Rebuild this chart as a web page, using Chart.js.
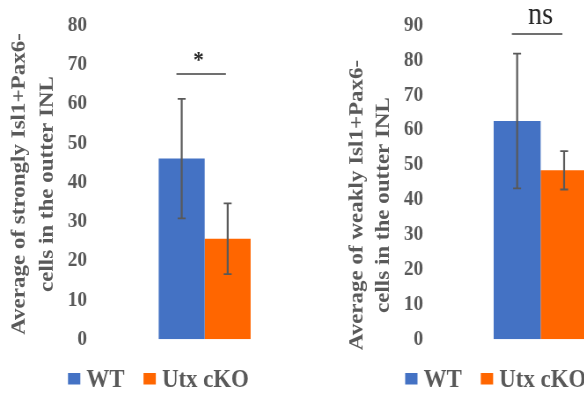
<!DOCTYPE html>
<html lang="en">
<head>
<meta charset="UTF-8">
<title>Isl1+Pax6- cells in the outer INL</title>
<style>
    html, body { margin: 0; padding: 0; background: #fff; overflow: hidden; width: 584px; height: 396px; }
    .wrap { position: relative; width: 584px; height: 396px; overflow: hidden; }
    canvas { position: absolute; top: 0; }
</style>
<script src="https://cdn.jsdelivr.net/npm/chart.js@4.4.1/dist/chart.umd.min.js"></script>
</head>
<body>
<div class="wrap">
    <!-- canvases are drawn wider than shown and squeezed, the source picture is squeezed the same way -->
    <canvas id="strongChart" width="332" height="396" style="left:0px;width:292px;height:396px"></canvas>
    <canvas id="weakChart" width="352" height="396" style="left:292px;width:310px;height:396px"></canvas>
</div>
<script>
    const groups = ['WT', 'Utx cKO'];
    const groupColors = ['#4472C4', '#FF6600'];

    // strongly Isl1+Pax6- cells
    const strongMeans = [46.0, 25.6];
    const strongErr = [15.2, 9.0];
    const strongMax = 80;
    const strongSigLevel = 67.5;
    const strongSigText = '*';
    const strongTitle = ['Average of strongly Isl1+Pax6-', 'cells in the outter INL'];

    // weakly Isl1+Pax6- cells
    const weakMeans = [62.5, 48.4];
    const weakErr = [19.3, 5.5];
    const weakMax = 90;
    const weakSigLevel = 87.4;
    const weakSigText = 'ns';
    const weakTitle = ['Average of weakly Isl1+Pax6-', 'cells in the outter INL'];

    const tickStep = 10;
    const serif = '"Liberation Serif", "Times New Roman", serif';
    const grey = '#595959';

    Chart.defaults.font.family = serif;

    const extras = {
        id: 'extras',
        afterDatasetsDraw(chart, args, opts) {
            const ctx = chart.ctx;
            const y = chart.scales.y;
            const centers = [];
            ctx.save();

            // error bars
            ctx.strokeStyle = grey;
            chart.data.datasets.forEach((ds, i) => {
                const bar = chart.getDatasetMeta(i).data[0];
                centers.push(bar.x);
                const m = ds.data[0];
                const e = opts.errors[i];
                const yTop = y.getPixelForValue(m + e);
                const yBot = y.getPixelForValue(m - e);
                ctx.lineWidth = 2.2;
                ctx.beginPath();
                ctx.moveTo(bar.x, yTop);
                ctx.lineTo(bar.x, yBot);
                ctx.stroke();
                ctx.lineWidth = 1.8;
                ctx.beginPath();
                ctx.moveTo(bar.x - 4.5, yTop);
                ctx.lineTo(bar.x + 4.5, yTop);
                ctx.moveTo(bar.x - 4.5, yBot);
                ctx.lineTo(bar.x + 4.5, yBot);
                ctx.stroke();
            });

            // significance bracket
            const ly = y.getPixelForValue(opts.sigLevel);
            const x1 = centers[0] - 6;
            const x2 = centers[1] - 2;
            ctx.strokeStyle = '#404040';
            ctx.lineWidth = 1.5;
            ctx.beginPath();
            ctx.moveTo(x1, ly);
            ctx.lineTo(x2, ly);
            ctx.stroke();
            ctx.fillStyle = '#262626';
            ctx.font = opts.sigFont;
            ctx.textAlign = 'center';
            ctx.textBaseline = 'alphabetic';
            ctx.fillText(opts.sigText, (x1 + x2) / 2 + opts.sigDx, ly - opts.sigGap);

            // axis title, two rotated lines
            ctx.fillStyle = grey;
            ctx.font = 'bold 23px ' + serif;
            ctx.textBaseline = 'middle';
            opts.title.forEach((line, k) => {
                ctx.save();
                ctx.translate(opts.titleX[k], opts.titleY);
                ctx.rotate(-Math.PI / 2);
                ctx.fillText(line, 0, 0);
                ctx.restore();
            });

            // legend
            ctx.font = 'bold 26px ' + serif;
            ctx.textAlign = 'left';
            ctx.textBaseline = 'alphabetic';
            let lx = opts.legendX;
            chart.data.datasets.forEach((ds) => {
                ctx.fillStyle = ds.backgroundColor;
                ctx.fillRect(lx, 373, 14, 11.5);
                lx += 14 + 7;
                ctx.fillStyle = grey;
                ctx.fillText(ds.label, lx, 386.5);
                lx += ctx.measureText(ds.label).width + 21.5;
            });
            ctx.restore();
        }
    };

    function makeChart(id, means, errs, maxVal, axisWidth, tickGap, padRight, catPct, extraOpts) {
        return new Chart(document.getElementById(id), {
            type: 'bar',
            data: {
                labels: [''],
                datasets: groups.map((g, i) => ({
                    label: g,
                    data: [means[i]],
                    backgroundColor: groupColors[i],
                    borderWidth: 0
                }))
            },
            options: {
                responsive: false,
                animation: false,
                devicePixelRatio: 1,
                layout: { padding: { top: 25, bottom: 56.7, left: 0, right: padRight } },
                datasets: { bar: { categoryPercentage: catPct, barPercentage: 1 } },
                scales: {
                    x: { display: false },
                    y: {
                        min: 0,
                        max: maxVal,
                        border: { display: false },
                        // hidden tick marks only keep the labels away from the bars
                        grid: { display: false, drawTicks: true, tickLength: tickGap - 6 },
                        ticks: {
                            stepSize: tickStep,
                            padding: 6,
                            color: grey,
                            font: { size: 22, weight: 'bold', family: serif }
                        },
                        afterFit(scale) { scale.width = axisWidth; }
                    }
                },
                plugins: {
                    legend: { display: false },
                    tooltip: { enabled: false },
                    extras: extraOpts
                }
            },
            plugins: [extras]
        });
    }

    makeChart('strongChart', strongMeans, strongErr, strongMax, 140, 41, 6.6, 0.564, {
        errors: strongErr,
        sigLevel: strongSigLevel,
        sigText: strongSigText,
        sigFont: 'bold 24px ' + serif,
        sigDx: -3,
        sigGap: 7.5,
        title: strongTitle,
        titleX: [22.5, 54.5],
        titleY: 184,
        legendX: 77.3
    });

    makeChart('weakChart', weakMeans, weakErr, weakMax, 215, 66, 2.4, 0.793, {
        errors: weakErr,
        sigLevel: weakSigLevel,
        sigText: weakSigText,
        sigFont: '32px ' + serif,
        sigDx: 4,
        sigGap: 10,
        title: weakTitle,
        titleX: [74, 104],
        titleY: 205,
        legendX: 128.5
    });
</script>
</body>
</html>
